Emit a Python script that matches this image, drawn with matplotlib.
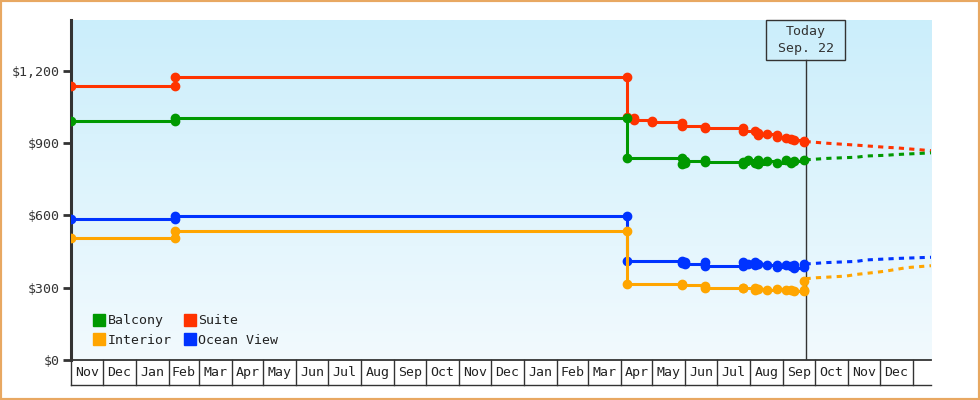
import matplotlib
matplotlib.use('Agg')
import matplotlib.pyplot as plt
import matplotlib.dates as mdates
import matplotlib.transforms as mtransforms
from matplotlib.patches import Rectangle
from matplotlib.lines import Line2D
from matplotlib.colors import LinearSegmentedColormap
import numpy as np

plt.rcParams['font.family'] = ['DejaVu Sans Mono', 'DejaVu Sans']

# observed prices (duplicate dates = price change: old then new value)
suite_dates = ['2022-11-01', '2023-02-07', '2023-02-07', '2024-04-07', '2024-04-07',
               '2024-04-14', '2024-04-14', '2024-05-01', '2024-05-01', '2024-05-29',
               '2024-05-29', '2024-06-19', '2024-06-19', '2024-07-25', '2024-07-25',
               '2024-08-05', '2024-08-08', '2024-08-08', '2024-08-17', '2024-08-26',
               '2024-08-26', '2024-09-04', '2024-09-08', '2024-09-11', '2024-09-21',
               '2024-09-21']
suite_vals = [1135, 1135, 1173, 1173, 1007,
              1003, 995, 992, 985, 982,
              971, 967, 961, 961, 950,
              948, 940, 935, 938, 932,
              925, 922, 918, 912, 910,
              906]

balcony_dates = ['2022-11-01', '2023-02-07', '2023-02-07', '2024-04-07', '2024-04-07',
                 '2024-05-29', '2024-05-29', '2024-06-01', '2024-06-01', '2024-06-19',
                 '2024-06-19', '2024-07-25', '2024-07-25', '2024-07-30', '2024-08-05',
                 '2024-08-08', '2024-08-08', '2024-08-17', '2024-08-26', '2024-09-04',
                 '2024-09-08', '2024-09-11', '2024-09-21']
balcony_vals = [990, 990, 1005, 1005, 837,
                837, 812, 815, 827, 830,
                820, 820, 812, 830, 815,
                828, 812, 826, 818, 828,
                815, 824, 828]

ocean_dates = ['2022-11-01', '2023-02-07', '2023-02-07', '2024-04-07', '2024-04-07',
               '2024-05-29', '2024-05-29', '2024-06-01', '2024-06-01', '2024-06-19',
               '2024-06-19', '2024-07-25', '2024-07-25', '2024-07-30', '2024-08-05',
               '2024-08-05', '2024-08-08', '2024-08-17', '2024-08-26', '2024-08-26',
               '2024-09-04', '2024-09-08', '2024-09-11', '2024-09-11', '2024-09-21',
               '2024-09-21']
ocean_vals = [583, 583, 597, 597, 412,
              412, 402, 408, 400, 405,
              391, 391, 408, 398, 408,
              392, 398, 392, 395, 385,
              392, 388, 395, 382, 385,
              398]

interior_dates = ['2022-11-01', '2023-02-07', '2023-02-07', '2024-04-07', '2024-04-07',
                  '2024-05-29', '2024-05-29', '2024-06-19', '2024-06-19', '2024-07-25',
                  '2024-07-25', '2024-08-05', '2024-08-05', '2024-08-08', '2024-08-17',
                  '2024-08-26', '2024-09-04', '2024-09-08', '2024-09-11', '2024-09-21',
                  '2024-09-21', '2024-09-21']
interior_vals = [505, 505, 534, 534, 315,
                 315, 310, 307, 300, 300,
                 297, 298, 290, 296, 292,
                 293, 290, 292, 288, 290,
                 285, 328]

# forecasts
fc_dates = ['2024-09-22', '2024-10-12', '2024-11-09', '2024-11-18', '2024-12-07',
            '2024-12-16', '2025-01-18']
suite_fc = [906, 899, 891, 888, 882, 880, 868]
balcony_fc = [830, 836, 841, 846, 849, 852, 859]
ocean_fc = [398, 404, 409, 415, 419, 421, 426]
interior_fc_dates = ['2024-09-22', '2024-10-02', '2024-10-30', '2024-11-09', '2024-11-28',
                     '2024-12-07', '2024-12-26', '2025-01-18']
interior_fc = [337, 341, 348, 355, 364, 369, 383, 391]

month_names = ['Jan', 'Feb', 'Mar', 'Apr', 'May', 'Jun',
               'Jul', 'Aug', 'Sep', 'Oct', 'Nov', 'Dec']

colors = {'Balcony': '#009900', 'Suite': '#ff3300',
          'Interior': '#ffa500', 'Ocean View': '#0033ff'}

d = lambda lst: np.array(lst, dtype='datetime64[D]')

fig = plt.figure(figsize=(9.8, 4), dpi=100)
ax = fig.add_axes([71/980, 40/400, 860/980, 340/400])

# gradient background
cmap = LinearSegmentedColormap.from_list('bg', ['#f2fafe', '#cbeefb'])
grad = np.linspace(0, 1, 256).reshape(-1, 1)
ax.imshow(grad, cmap=cmap, origin='lower', extent=[0, 1, 0, 1],
          transform=ax.transAxes, aspect='auto', zorder=0)

series = [
    ('Suite', suite_dates, suite_vals, fc_dates, suite_fc),
    ('Balcony', balcony_dates, balcony_vals, fc_dates, balcony_fc),
    ('Ocean View', ocean_dates, ocean_vals, fc_dates, ocean_fc),
    ('Interior', interior_dates, interior_vals, interior_fc_dates, interior_fc),
]
for name, dt, vals, fdt, fvals in series:
    c = colors[name]
    ax.plot(d(fdt), fvals, color=c, lw=2.2, ls=(0, (1.7, 1.7)), zorder=3)
    ax.plot(d(dt), vals, color=c, lw=2.2, drawstyle='steps-post',
            marker='o', markersize=6, zorder=4)

x0 = mdates.date2num(np.datetime64('2022-11-01'))
x1 = mdates.date2num(np.datetime64('2025-01-18'))
ax.set_xlim(x0, x1)
ax.set_ylim(0, 1410)

trans = mtransforms.blended_transform_factory(ax.transData, ax.transAxes)

# month cells below the axis
cell_h = 25 / 340
starts = np.arange(np.datetime64('2022-11'), np.datetime64('2025-02'),
                   dtype='datetime64[M]')
for i, m in enumerate(starts):
    s = mdates.date2num(m.astype('datetime64[D]'))
    ax.plot([s, s], [0, -cell_h], transform=trans, color='#333333', lw=1, clip_on=False)
    if i < len(starts) - 1:
        e = mdates.date2num(starts[i + 1].astype('datetime64[D]'))
        mon = int(str(m)[5:7])
        ax.text((s + e) / 2, -cell_h / 2, month_names[mon - 1], transform=trans,
                ha='center', va='center', fontsize=9.5, color='#222222')
ax.plot([0, 1], [-cell_h, -cell_h], transform=ax.transAxes, color='#333333',
        lw=1, clip_on=False)

# today marker
today = mdates.date2num(np.datetime64('2024-09-22'))
box_bottom = 1 - 40 / 340
ax.plot([today, today], [0, box_bottom], transform=trans, color='#333333', lw=1, zorder=2)
ax.add_patch(Rectangle((today - 37.5, box_bottom), 75, 1 - box_bottom, transform=trans,
                       fill=False, ec='#333333', lw=1, zorder=5, clip_on=False))
ax.text(today, (1 + box_bottom) / 2, 'Today\nSep. 22', transform=trans, ha='center',
        va='center', fontsize=9.5, color='#333333', linespacing=1.35, zorder=5)

ax.set_xticks([])
ax.set_yticks([0, 300, 600, 900, 1200])
ax.set_yticklabels(['$0', '$300', '$600', '$900', '$1,200'])
ax.tick_params(axis='y', length=6, width=2, color='#333333', labelsize=9.5,
               labelcolor='#333333', pad=2)
for s in ['top', 'right']:
    ax.spines[s].set_visible(False)
ax.spines['left'].set_linewidth(2.2)
ax.spines['left'].set_color('#333333')
ax.spines['bottom'].set_linewidth(1.3)
ax.spines['bottom'].set_color('#333333')

order = ['Balcony', 'Interior', 'Suite', 'Ocean View']
handles = [Line2D([], [], marker='s', ls='none', color=colors[n], markersize=8) for n in order]
ax.legend(handles, order, ncol=2, loc='lower left', bbox_to_anchor=(0.027, 0.038),
          frameon=False, fontsize=9.5, handlelength=0.8, handletextpad=0.2,
          columnspacing=1.0, labelspacing=0.5, borderaxespad=0, borderpad=0,
          labelcolor='#222222')

fig.patches.append(Rectangle((0, 0), 1, 1, transform=fig.transFigure, fill=False,
                             ec='#e8a862', lw=3))

fig.savefig('out.png', dpi=100)
